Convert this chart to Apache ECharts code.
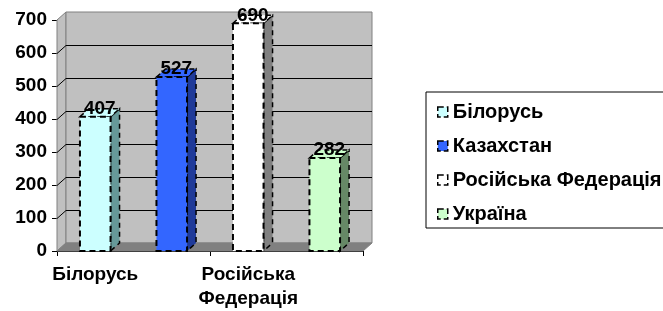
<!DOCTYPE html>
<html>
<head>
<meta charset="utf-8">
<script src="https://cdn.jsdelivr.net/npm/echarts@6/dist/echarts.min.js"></script>
<style>
html,body{margin:0;padding:0;background:#fff;overflow:hidden;}
#chart{width:663px;height:311px;}
</style>
</head>
<body>
<div id="chart"></div>
<script>
var countries = ['Білорусь', 'Казахстан', 'Російська Федерація', 'Україна'];
var values = [407, 527, 690, 282];
var frontColors = ['#CCFFFF', '#3366FF', '#FFFFFF', '#CCFFCC'];
var sideColors = ['#669999', '#1F3A99', '#808080', '#668866'];
var yTicks = [0, 100, 200, 300, 400, 500, 600, 700];

var DX = 9, DY = 8;
var font = 'Liberation Sans, Arial, sans-serif';

var chart = echarts.init(document.getElementById('chart'));

// walls, floor and grid lines of the 3d box
function renderBox(params, api) {
	var p0 = api.coord([0, 0]);
	var p1 = api.coord([3, 0]);
	var half = api.size([1, 0])[0] / 2;
	var xl = p0[0] - half, xr = p1[0] + half;
	var yb = p0[1], yt = api.coord([0, yTicks[yTicks.length - 1]])[1];
	var kids = [];
	kids.push({type: 'polygon', shape: {points: [[xl, yb], [xl, yt], [xl + DX, yt - DY], [xl + DX, yb - DY]]},
		style: {fill: '#C0C0C0', stroke: '#808080', lineWidth: 1}});
	kids.push({type: 'rect', shape: {x: xl + DX, y: yt - DY, width: xr - xl, height: yb - yt},
		style: {fill: '#C0C0C0', stroke: '#808080', lineWidth: 1}});
	kids.push({type: 'polygon', shape: {points: [[xl, yb], [xl + DX, yb - DY], [xr + DX, yb - DY], [xr, yb]]},
		style: {fill: '#808080', stroke: '#808080', lineWidth: 1}});
	for (var i = 1; i < yTicks.length - 1; i++) {
		var y = Math.round(api.coord([0, yTicks[i]])[1]) + 0.5;
		kids.push({type: 'polyline', shape: {points: [[xl, y], [xl + DX, y - DY], [xr + DX, y - DY]]},
			style: {stroke: '#000', lineWidth: 1, fill: null}});
	}
	return {type: 'group', children: kids};
}

function renderBar(params, api) {
	var idx = api.value(0);
	var top = api.coord([idx, api.value(1)]);
	var bot = api.coord([idx, 0]);
	var w = api.size([1, 0])[0] * 0.4;
	var xl = top[0] - w / 2, xr = top[0] + w / 2;
	return {type: 'group', children: [
		{type: 'polygon', shape: {points: [[xr, top[1]], [xr + DX, top[1] - DY], [xr + DX, bot[1] - DY], [xr, bot[1]]]},
			style: {fill: sideColors[idx], stroke: '#000', lineWidth: 1.5, lineDash: [5, 4]}},
		{type: 'polygon', shape: {points: [[xl, top[1]], [xl + DX, top[1] - DY], [xr + DX, top[1] - DY], [xr, top[1]]]},
			style: {fill: frontColors[idx], stroke: '#000', lineWidth: 1.5, lineDash: [5, 4]}},
		{type: 'rect', shape: {x: xl, y: top[1], width: w, height: bot[1] - top[1]},
			style: {fill: frontColors[idx], stroke: '#000', lineWidth: 2, lineDash: [6, 4]}},
		{type: 'text', x: top[0] + DX / 2, y: top[1] - DY,
			style: {text: String(api.value(1)), fill: '#000', font: 'bold 19px ' + font, align: 'center', verticalAlign: 'middle'}}
	]};
}

var series = [{
	type: 'custom', name: 'box', silent: true, z: 1,
	data: [[0, 0]], renderItem: renderBox
}];
countries.forEach(function(c, i) {
	series.push({
		type: 'custom', name: c, z: 2,
		itemStyle: {color: frontColors[i]},
		data: [[i, values[i]]],
		renderItem: renderBar
	});
});

var option = {
	animation: false,
	textStyle: {fontFamily: font},
	grid: {left: 57, right: 300, top: 20, bottom: 60},
	legend: {
		orient: 'vertical', left: 426, top: 92,
		padding: [10, 60, 4, 11], itemGap: 14,
		itemWidth: 10, itemHeight: 10, icon: 'rect',
		borderColor: '#000', borderWidth: 1, backgroundColor: '#fff',
		textStyle: {fontSize: 20, fontWeight: 'bold', color: '#000', fontFamily: font},
		data: countries.map(function(c, i) {
			return {name: c, itemStyle: {color: frontColors[i], borderColor: '#000', borderWidth: 1.5, borderType: 'dashed'}};
		})
	},
	xAxis: {
		type: 'category', data: countries,
		axisLine: {lineStyle: {color: '#000', width: 1}},
		axisTick: {show: true, length: 5, lineStyle: {color: '#000'}},
		axisLabel: {interval: 1, margin: 12, color: '#000', fontSize: 19, fontWeight: 'bold', lineHeight: 24,
			formatter: function(v) { return v.replace(' ', '\n'); }}
	},
	yAxis: {
		type: 'value', min: 0, max: 700, interval: 100,
		axisLine: {show: true, lineStyle: {color: '#000', width: 1}},
		axisTick: {show: true, length: 5, lineStyle: {color: '#000'}},
		splitLine: {show: false},
		axisLabel: {margin: 10, color: '#000', fontSize: 19, fontWeight: 'bold'}
	},
	series: series
};
chart.setOption(option);
</script>
</body>
</html>
